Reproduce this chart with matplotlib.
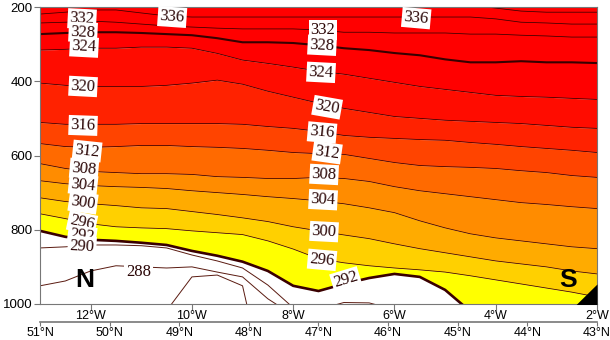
import numpy as np
import matplotlib
matplotlib.use("Agg")
import matplotlib.pyplot as plt

####################################################
#  isentrope heights (hPa) along the section        #
#  columns from 51N 13W to 43N 2W                    #
####################################################

lon = [-13.0, -12.5, -12.0, -11.5, -11.0, -10.5, -10.0, -9.5, -9.0, -8.5, -8.0, -7.5,
       -7.0, -6.5, -6.0, -5.5, -5.0, -4.5, -4.0, -3.5, -3.0, -2.5, -2.0]

p340 = [190, 190, 190, 190, 190, 190, 190, 190, 190, 190, 190, 190,
        190, 190, 190, 190, 190, 195, 203, 211, 214, 214, 214]
p336 = [219, 214, 208, 208, 216, 224, 227, 227, 227, 227, 227, 227,
        227, 227, 227, 227, 227, 227, 232, 241, 243, 246, 246]
p332 = [243, 241, 238, 241, 246, 251, 254, 257, 259, 259, 259, 262,
        268, 268, 270, 270, 270, 273, 273, 276, 278, 281, 281]
p328 = [273, 270, 268, 268, 270, 273, 276, 284, 295, 295, 297, 303,
        311, 316, 324, 330, 341, 349, 349, 346, 349, 349, 351]
p324 = [316, 314, 311, 311, 308, 308, 311, 325, 343, 352, 362, 373,
        381, 392, 403, 414, 422, 430, 438, 441, 443, 446, 449]
p320 = [405, 411, 414, 414, 414, 411, 405, 397, 408, 427, 443, 459,
        473, 484, 495, 500, 505, 508, 511, 514, 519, 524, 527]
p316 = [511, 516, 516, 516, 514, 514, 514, 514, 516, 522, 527, 535,
        546, 551, 554, 557, 559, 565, 570, 576, 581, 586, 592]
p312 = [568, 576, 578, 576, 573, 573, 576, 578, 581, 586, 592, 595,
        597, 608, 619, 627, 630, 632, 635, 641, 646, 654, 659]
p308 = [622, 635, 643, 646, 649, 649, 651, 657, 659, 662, 662, 659,
        662, 670, 684, 695, 703, 711, 719, 727, 732, 738, 743]
p304 = [668, 676, 681, 684, 686, 689, 695, 700, 705, 711, 716, 722,
        730, 741, 754, 776, 795, 811, 822, 830, 838, 846, 851]
p300 = [714, 724, 730, 735, 741, 743, 751, 759, 768, 778, 792, 803,
        814, 824, 838, 851, 862, 873, 884, 892, 900, 911, 919]
p296 = [757, 770, 784, 792, 795, 797, 803, 808, 813, 830, 852, 878,
        889, 897, 903, 908, 914, 924, 935, 946, 957, 968, 981]
p292 = [803, 819, 827, 830, 835, 841, 857, 870, 886, 911, 951, 965,
        946, 930, 919, 927, 962, 1020, 1040, 1050, 1060, 1060, 1060]
p290 = [849, 846, 841, 841, 843, 849, 868, 884, 903, 949, 1010, 1015,
        996, 997, 1015, 1030, 1040, 1040, 1060, 1070, 1080, 1080, 1080]
p288 = [951, 938, 911, 897, 900, 903, 900, 914, 927, 986, 1030, 1100,
        1100, 1100, 1100, 1100, 1100, 1100, 1100, 1100, 1100, 1100, 1100]
p286 = [1100, 1100, 1100, 1100, 1100, 1018, 927, 922, 951, 1250, 1100, 1100,
        1100, 1100, 1100, 1100, 1100, 1100, 1100, 1100, 1100, 1100, 1100]

# orography near the French coast
terrain_lon = [-2.5, -2.0]
terrain_p = [1013, 946]

# lat ticks of the lower axis
lat_ticks = [51, 50, 49, 48, 47, 46, 45, 44, 43]
lon_ticks = [-12, -10, -8, -6, -4, -2]
p_ticks = [200, 400, 600, 800, 1000]

# labelled levels (two columns of labels)
left_vals = [336, 332, 328, 324, 320, 316, 312, 308, 304, 300, 296, 292, 290, 288]
mid_vals = [336, 332, 328, 324, 320, 316, 312, 308, 304, 300, 296, 292]

# label positions (lon, p, rotation)
left_pos = [(-10.39, 227, -4), (-12.17, 232, -3), (-12.15, 268, -3), (-12.13, 308, -3),
            (-12.15, 414, -3), (-12.15, 519, -2), (-12.07, 588, -6), (-12.13, 636, -5),
            (-12.15, 679, -6), (-12.15, 727, -8), (-12.17, 781, -12), (-12.17, 817, -8),
            (-12.17, 845, -3), (-11.05, 914, 0)]
mid_pos = [(-5.57, 230, -5), (-7.41, 262, 0), (-7.43, 303, -3), (-7.45, 376, -3),
           (-7.33, 470, -10), (-7.43, 538, -5), (-7.33, 592, -8), (-7.39, 651, -3),
           (-7.41, 719, -3), (-7.39, 805, -3), (-7.43, 881, -5), (-6.96, 935, 17)]

lon = np.array(lon)

fig = plt.figure(figsize=(6.1, 3.4), dpi=100)
ax = fig.add_axes([40/610, 36/340, 557/610, 297/340])

# filled bands
bands = [(p292, p296, '#FFFF00'), (p296, p300, '#FFD000'), (p300, p304, '#FFAB00'),
         (p304, p308, '#FF8C00'), (p308, p312, '#FF6A00'), (p312, p316, '#FF4400'),
         (p316, p320, '#FF2200'), (p320, p324, '#FF0C00')]
for lo, hi, c in bands:
    ax.fill_between(lon, lo, hi, color=c, lw=0, zorder=1)
ax.fill_between(lon, p324, 150, color='#FF0000', lw=0, zorder=1)

# isentropes
line_col = '#380000'
for pp in [p340, p336, p332, p324, p320, p316, p312, p308, p304, p300, p296]:
    ax.plot(lon, pp, color=line_col, lw=0.55, zorder=2)
ax.plot(lon, p328, color=line_col, lw=1.5, zorder=2)
ax.plot(lon, p292, color='#3a0000', lw=1.9, zorder=2)
for pp in [p290, p288, p286]:
    ax.plot(lon, pp, color='#5a1a10', lw=0.7, zorder=2)

# terrain
ax.fill_between(terrain_lon, terrain_p, 1100, color='black', lw=0, zorder=3)

# contour labels
lab_font = dict(family='Liberation Serif', size=12, color='#2a0505')
for vals, pos in [(left_vals, left_pos), (mid_vals, mid_pos)]:
    for v, (x, y, r) in zip(vals, pos):
        ax.text(x, y, str(v), ha='center', va='center', rotation=r, zorder=4,
                bbox=dict(boxstyle='square,pad=0.12', fc='white', ec='none'), **lab_font)

ax.text(-12.11, 935, 'N', ha='center', va='center', fontsize=19, fontweight='bold',
        family='Liberation Sans', zorder=5)
ax.text(-2.57, 935, 'S', ha='center', va='center', fontsize=19, fontweight='bold',
        family='Liberation Sans', zorder=5)

ax.set_xlim(-13, -2)
ax.set_ylim(1000, 200)

axis_col = '#777777'
for sp in ax.spines.values():
    sp.set_color(axis_col)
    sp.set_linewidth(0.8)

ax.set_yticks(p_ticks)
ax.set_yticklabels([str(v) for v in p_ticks], family='Liberation Sans', fontsize=9.5)
ax.set_xticks(lon_ticks)
ax.set_xticklabels([f'{-v}°W' for v in lon_ticks], family='Liberation Sans', fontsize=9)
ax.tick_params(axis='y', direction='out', length=4, width=0.8, color=axis_col, pad=1.5)
ax.tick_params(axis='x', direction='out', length=4, width=0.8, color=axis_col, pad=0.6)

# latitude axis below
def lon2lat(x):
    return 51 - (np.asarray(x) + 13) * 8 / 11

def lat2lon(y):
    return -13 + (51 - np.asarray(y)) * 11 / 8

sec = ax.secondary_xaxis(-18/297, functions=(lon2lat, lat2lon))
sec.set_xticks(lat_ticks)
sec.set_xticklabels([f'{v}°N' for v in lat_ticks], family='Liberation Sans', fontsize=9)
sec.tick_params(direction='out', length=3, width=0.8, color=axis_col, pad=0.3)
sec.spines['bottom'].set_color(axis_col)
sec.spines['bottom'].set_linewidth(1.2)

fig.savefig('out.png', dpi=100)
plt.close(fig)
